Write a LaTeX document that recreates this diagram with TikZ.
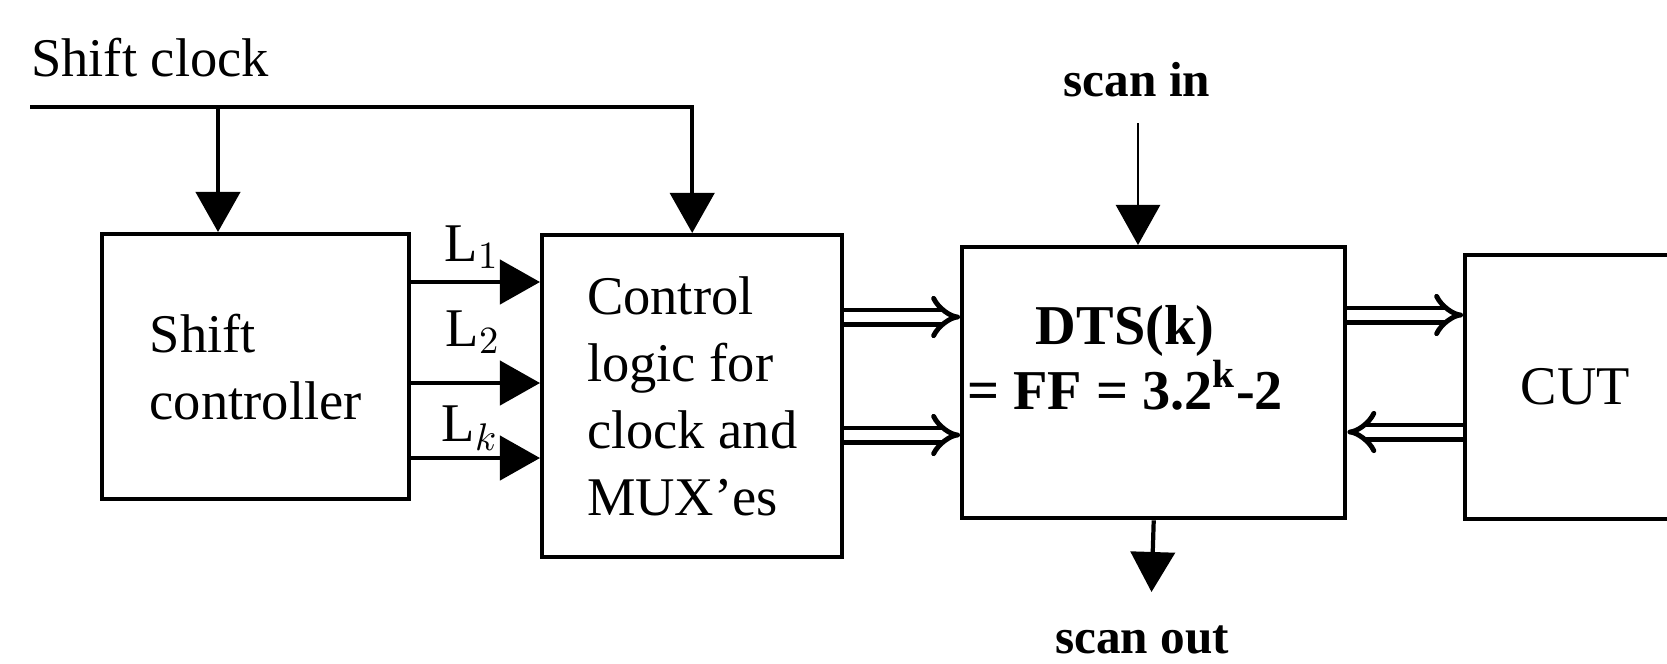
\documentclass[tikz,border=0pt]{standalone}
\usepackage{fontspec}
\setmainfont{Liberation Serif}
\usetikzlibrary{arrows.meta}

\begin{document}
\begin{tikzpicture}[x=0.01cm,y=-0.01cm,line width=1.2pt,
  >={Triangle[length=4mm,width=4.4mm]},
  font=\fontsize{15.5}{19}\selectfont,
  blk/.style={draw,inner sep=0pt,anchor=north west,align=left},
  bus/.style={double,line width=1.4pt,double distance=2.6pt,-{Implies}}]
\useasboundingbox (0,0) rectangle (1667,663);
% blocks
\node[blk,minimum width=3.07cm,minimum height=2.65cm] (shc) at (100,232) {Shift\\controller};
\node[blk,minimum width=3cm,minimum height=3.22cm] (ctl) at (540,233) {Control\\logic for\\clock and\\MUX'es};
\node[blk,minimum width=3.83cm,minimum height=2.71cm] (dts) at (960,245) {};
\node[font=\fontsize{16}{17}\selectfont\bfseries,align=center] (dtstxt) at (1125,358) {DTS(k)\\= FF = 3.2\textsuperscript{k}-2};
\node[blk,minimum width=2.2cm,minimum height=2.64cm] (cut) at (1463,253) {CUT};
% shift clock
\node (clk) at (150,58) {Shift clock};
\coordinate (clkin) at (30,107);
\coordinate (tap) at (218,107);
\draw[->] (clkin) -| (ctl.north);
\draw[->] (tap) -- (tap |- shc.north);
% L lines
\foreach \yy in {282,383,458}
  \draw[->] (shc.east |- 0,\yy) -- (ctl.west |- 0,\yy);
\node (l1) at (472,247) {L$_1$};
\node (l2) at (473,332) {L$_2$};
\node (lk) at (470,428) {L$_k$};
% buses
\draw[bus] (ctl.east |- 0,317) -- (dts.west |- 0,317);
\draw[bus] (ctl.east |- 0,435) -- (dts.west |- 0,435);
\draw[bus] (dts.east |- 0,315) -- (cut.west |- 0,315);
\draw[bus] (cut.west |- 0,432) -- (dts.east |- 0,432);
% scan chain
\node[font=\fontsize{14}{17}\selectfont\bfseries] (sin) at (1137,80) {scan in};
\coordinate (sintop) at (1138,123);
\draw[->,line width=0.7pt] (sintop) -- (sintop |- dts.north);
\coordinate (soutend) at (1151.5,592);
\draw[->] (dts.south) -- (soutend);
\node[font=\fontsize{14}{17}\selectfont\bfseries] (sout) at (1142,640) {scan out};
\end{tikzpicture}
\end{document}
